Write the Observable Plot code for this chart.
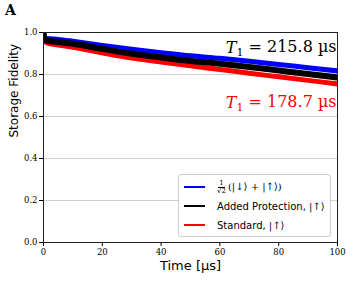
<!DOCTYPE html>
<html><head><meta charset="utf-8">
<script src="https://cdn.jsdelivr.net/npm/d3@7"></script>
<script src="https://cdn.jsdelivr.net/npm/@observablehq/plot@0.6"></script>
<style>
body{margin:0;background:#fff;}
#wrap{position:relative;width:352px;height:285px;font-family:"DejaVu Sans",sans-serif;}
#lbl{position:absolute;left:5px;top:2px;font:bold 14px "DejaVu Serif",serif;}
#legend{position:absolute;left:178px;top:174px;width:153px;height:63px;border:1px solid #ccc;border-radius:3px;background:rgba(255,255,255,0.9);font-size:10px;box-sizing:border-box;white-space:nowrap;}
.row{position:absolute;left:5px;display:flex;align-items:center;height:14px;}
.sw{width:21px;height:2px;margin-right:12px;}
.frac{display:inline-flex;flex-direction:column;align-items:center;font-size:7px;line-height:7px;vertical-align:middle;margin-right:2px;font-family:"DejaVu Serif",serif;}
.frac span:first-child{border-bottom:0.6px solid #000;padding:0 1px;}
.m{font-family:"DejaVu Serif",serif;}
</style></head><body>
<div id="wrap"><div id="lbl">A</div><div id="chart"></div>
<div id="legend">
<div class="row" style="top:5px"><div class="sw" style="background:#0000ff"></div><span class="m"><span class="frac"><span>1</span><span>√2</span></span>(|↓⟩ + |↑⟩)</span></div>
<div class="row" style="top:24px"><div class="sw" style="background:#000"></div><span>Added Protection, <span class="m">|↑⟩</span></span></div>
<div class="row" style="top:43px"><div class="sw" style="background:#ff0000"></div><span>Standard, <span class="m">|↑⟩</span></span></div>
</div></div>
<script>
const times = [0, 0.3, 1, 5, 10, 20, 30, 40, 50, 60, 70, 80, 90, 100];
const blue  = [1.0, 0.978, 0.972, 0.967, 0.958, 0.938, 0.920, 0.904, 0.889, 0.877, 0.863, 0.848, 0.832, 0.817];
const black = [1.0, 0.968, 0.962, 0.955, 0.946, 0.922, 0.899, 0.881, 0.864, 0.851, 0.836, 0.819, 0.802, 0.786];
const red   = [1.0, 0.960, 0.952, 0.940, 0.930, 0.903, 0.878, 0.859, 0.841, 0.824, 0.806, 0.789, 0.772, 0.755];
const series = [
  {name: "superposition", color: "#0000ff", vals: blue, w: 5},
  {name: "standard", color: "#ff0000", vals: red, w: 5},
  {name: "protected", color: "#000000", vals: black, w: 6}
];
const xTicks = [0, 20, 40, 60, 80, 100];
const yTicks = [0.0, 0.2, 0.4, 0.6, 0.8, 1.0];
const gridY = [0.2, 0.4, 0.6, 0.8];
const labels = [
  {x: 100, y: 0.925, value: "215.8", color: "#000"},
  {x: 100, y: 0.665, value: "178.7", color: "#ff0000"}
];
const marks = [
  Plot.ruleY(gridY, {stroke: "#d0d0d0", strokeWidth: 1})
];
for (const s of series) {
  const d = times.map((t, i) => ({t, v: s.vals[i]}));
  marks.push(Plot.line(d, {x: "t", y: "v", stroke: s.color, strokeWidth: s.w, curve: "monotone-x", clip: true, strokeLinecap: "butt"}));
}
marks.push(
  Plot.text(labels, {x: "x", y: "y", text: d => "T1 = " + d.value + " µs", fill: "color", textAnchor: "end", dx: -1, fontSize: 16, fontFamily: "DejaVu Serif, serif", className: "t1lab"}),
  Plot.frame({stroke: "#222", strokeWidth: 1}),
  Plot.axisX(xTicks, {tickSize: 4, tickFormat: d => d, fontFamily: "DejaVu Serif, serif", fontSize: 8.5, label: null, tickPadding: 2}),
  Plot.axisY(yTicks, {tickSize: 4, tickFormat: d3.format(".1f"), fontFamily: "DejaVu Serif, serif", fontSize: 8.5, label: null, tickPadding: 2}),
  Plot.text(["Time [μs]"], {frameAnchor: "bottom", dy: 27, fontSize: 13, fontFamily: "DejaVu Sans, sans-serif", fill: "#000"}),
  Plot.text(["Storage Fidelity"], {frameAnchor: "left", dx: -29, rotate: -90, fontSize: 12, fontFamily: "DejaVu Sans, sans-serif", fill: "#000"})
);
const chart = Plot.plot({
  width: 352, height: 285,
  marginLeft: 43, marginRight: 15, marginTop: 32, marginBottom: 43,
  x: {domain: [0, 100]},
  y: {domain: [0, 1.0]},
  style: {background: "#fff", color: "#000"},
  marks
});
d3.select(chart).selectAll("g.t1lab text").each(function(d, i) {
  const lab = labels[i];
  const t = d3.select(this);
  t.text(null);
  t.append("tspan").attr("font-style", "italic").text("T");
  t.append("tspan").attr("font-size", 11).attr("dy", "0.25em").text("1");
  t.append("tspan").attr("dy", "-0.25em").text(" = " + lab.value + " µs");
});
document.getElementById("chart").appendChild(chart);
</script>
</body></html>
